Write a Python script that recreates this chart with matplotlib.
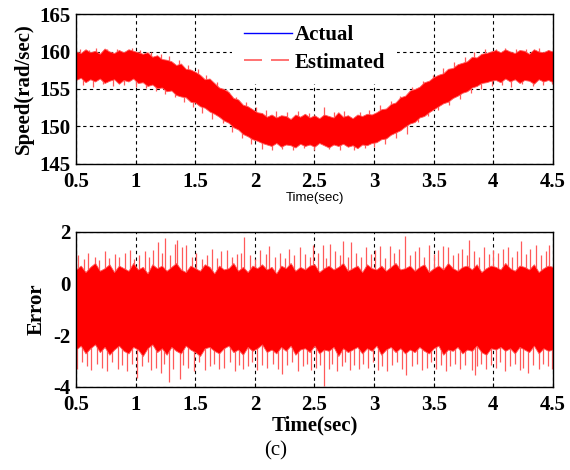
import numpy as np
import matplotlib
matplotlib.use("Agg")
import matplotlib.pyplot as plt
from matplotlib.lines import Line2D

plt.rcParams["font.family"] = ["Liberation Serif", "DejaVu Serif"]
plt.rcParams["axes.unicode_minus"] = False

# --- donnees ---
# temps (s) des enveloppes, pas de 0.04 s
t_env = np.linspace(0.5, 4.5, 101)
# temps (s) de la vitesse reelle, pas de 0.1 s
t_act = np.linspace(0.5, 4.5, 41)

speed_actual = [158.0, 158.1, 158.0, 158.1, 158.0, 157.9, 157.6, 157.2, 156.6, 155.9,
                155.1, 154.2, 153.2, 152.1, 151.0, 150.1, 149.6, 149.4, 149.4, 149.5,
                149.5, 149.4, 149.4, 149.5, 149.5, 149.8, 150.5, 151.5, 152.6, 153.6,
                154.5, 155.4, 156.3, 157.1, 157.7, 158.0, 158.1, 158.0, 158.1, 158.0,
                158.1]

# enveloppe haute / basse de la vitesse estimee
speed_est_hi = [160.0, 159.8, 160.3, 159.9, 160.1, 159.7, 160.4, 160.0, 159.8, 160.2,
                159.9, 160.3, 160.1, 159.9, 159.7, 159.9, 159.3, 159.5, 159.0, 158.9,
                158.7, 158.2, 158.4, 157.7, 157.6, 157.3, 156.9, 156.3, 156.4, 155.8,
                155.2, 155.0, 154.6, 153.8, 153.6, 152.9, 152.7, 152.3, 151.9, 151.8,
                151.3, 151.6, 151.2, 151.5, 151.4, 151.0, 151.6, 151.3, 151.7, 151.2,
                151.5, 151.1, 151.6, 151.4, 151.2, 151.9, 151.3, 151.5, 151.1, 151.6,
                151.4, 151.7, 151.6, 151.9, 152.3, 152.4, 153.0, 153.2, 153.9, 154.1,
                154.8, 155.0, 155.3, 155.9, 156.1, 156.6, 156.9, 157.1, 157.7, 157.8,
                158.3, 158.5, 158.7, 159.3, 159.2, 159.7, 159.8, 160.0, 160.2, 159.9,
                160.3, 160.0, 159.8, 160.2, 160.1, 159.7, 160.3, 160.0, 159.9, 160.2,
                160.0]
speed_est_lo = [156.2, 156.5, 155.9, 156.3, 156.0, 156.4, 155.8, 156.1, 156.3, 155.7,
                156.2, 156.0, 156.4, 155.8, 155.9, 155.4, 155.6, 155.1, 155.2, 154.7,
                154.8, 154.2, 154.0, 153.9, 153.3, 153.2, 152.7, 152.5, 152.0, 151.7,
                151.3, 150.8, 150.5, 149.9, 149.6, 149.0, 148.7, 148.3, 148.1, 147.8,
                147.6, 147.4, 147.8, 147.3, 147.6, 147.5, 147.2, 147.7, 147.4, 147.6,
                147.3, 147.8, 147.5, 147.2, 147.6, 147.4, 147.7, 147.3, 147.5, 147.1,
                147.6, 147.5, 147.8, 147.9, 148.3, 148.4, 148.9, 149.2, 149.5, 150.0,
                150.4, 150.6, 151.2, 151.4, 151.9, 152.3, 152.7, 153.1, 153.3, 153.8,
                154.1, 154.5, 154.7, 155.2, 155.4, 155.8, 155.9, 156.1, 156.2, 155.9,
                156.4, 156.0, 156.3, 155.8, 156.2, 156.1, 155.7, 156.3, 156.0, 156.2,
                155.9]

# pics isoles de la vitesse estimee
speed_up_t = [0.53, 0.61, 0.67, 0.76, 0.84, 0.97, 1.04, 1.13, 1.21, 1.28,
              1.36, 1.44, 1.52, 1.59, 1.68, 1.77, 1.84, 1.93, 2.01, 2.09,
              2.18, 2.27, 2.36, 2.45, 2.58, 2.66, 2.75, 2.88, 2.96, 3.05,
              3.14, 3.22, 3.32, 3.41, 3.49, 3.58, 3.67, 3.76, 3.84, 3.93,
              4.02, 4.10, 4.19, 4.27, 4.38, 4.46]
speed_up_v = [160.4, 160.2, 160.5, 160.3, 160.4, 160.5, 160.2, 159.9, 159.7, 159.4,
              158.9, 158.2, 157.6, 156.8, 155.9, 154.8, 153.9, 153.3, 152.6, 152.2,
              152.0, 151.9, 152.1, 151.8, 152.6, 151.9, 152.0, 151.9, 152.2, 152.8,
              153.4, 154.1, 155.3, 156.0, 156.9, 157.8, 158.6, 159.3, 159.9, 160.3,
              160.4, 160.5, 160.3, 160.4, 160.5, 160.2]
speed_dn_t = [0.56, 0.64, 0.73, 0.81, 0.90, 1.00, 1.09, 1.17, 1.25, 1.33,
              1.41, 1.48, 1.56, 1.64, 1.73, 1.81, 1.89, 1.97, 2.06, 2.14,
              2.23, 2.32, 2.41, 2.50, 2.62, 2.71, 2.83, 2.92, 3.00, 3.09,
              3.18, 3.28, 3.37, 3.45, 3.54, 3.63, 3.72, 3.81, 3.90, 3.99,
              4.07, 4.15, 4.24, 4.33, 4.42, 4.49]
speed_dn_v = [155.5, 155.3, 155.6, 155.4, 155.5, 155.3, 155.1, 154.7, 154.3, 153.9,
              153.2, 152.6, 151.8, 151.0, 150.4, 149.3, 148.4, 147.7, 147.0, 146.9,
              147.0, 146.8, 147.1, 146.9, 147.0, 146.8, 146.9, 147.1, 147.2, 147.6,
              148.5, 149.0, 150.6, 151.4, 152.2, 152.9, 153.6, 154.4, 155.0, 155.4,
              155.5, 155.3, 155.6, 155.4, 155.5, 155.6]

# enveloppe de l'erreur
err_hi = [0.55, 0.70, 0.45, 0.65, 0.80, 0.50, 0.60, 0.75, 0.45, 0.70,
          0.60, 0.50, 0.80, 0.55, 0.65, 0.40, 0.75, 0.60, 0.70, 0.50,
          0.65, 0.80, 0.55, 0.45, 0.70, 0.60, 0.50, 0.75, 0.65, 0.40,
          0.70, 0.55, 0.60, 0.80, 0.50, 0.65, 0.45, 0.70, 0.60, 0.75,
          0.55, 0.65, 0.40, 0.70, 0.60, 0.80, 0.50, 0.65, 0.55, 0.70,
          0.75, 0.45, 0.60, 0.70, 0.55, 0.65, 0.80, 0.50, 0.60, 0.70,
          0.45, 0.75, 0.60, 0.55, 0.70, 0.50, 0.65, 0.80, 0.55, 0.60,
          0.70, 0.50, 0.65, 0.75, 0.45, 0.60, 0.70, 0.55, 0.80, 0.60,
          0.50, 0.65, 0.70, 0.55, 0.75, 0.45, 0.60, 0.70, 0.65, 0.55,
          0.80, 0.60, 0.50, 0.70, 0.65, 0.55, 0.75, 0.45, 0.60, 0.70,
          0.65]
err_lo = [-2.55, -2.40, -2.70, -2.50, -2.35, -2.65, -2.45, -2.75, -2.55, -2.40,
          -2.60, -2.70, -2.45, -2.55, -2.80, -2.50, -2.35, -2.65, -2.50, -2.75,
          -2.45, -2.60, -2.70, -2.40, -2.55, -2.65, -2.80, -2.50, -2.45, -2.60,
          -2.70, -2.50, -2.40, -2.65, -2.55, -2.75, -2.45, -2.60, -2.50, -2.35,
          -2.65, -2.55, -2.70, -2.45, -2.60, -2.40, -2.75, -2.55, -2.50, -2.65,
          -2.40, -2.70, -2.55, -2.60, -2.45, -2.80, -2.50, -2.65, -2.55, -2.45,
          -2.70, -2.50, -2.60, -2.40, -2.75, -2.55, -2.45, -2.65, -2.50, -2.70,
          -2.55, -2.65, -2.45, -2.60, -2.70, -2.50, -2.40, -2.75, -2.55, -2.60,
          -2.45, -2.70, -2.55, -2.60, -2.40, -2.65, -2.75, -2.50, -2.55, -2.45,
          -2.60, -2.50, -2.70, -2.45, -2.55, -2.65, -2.40, -2.70, -2.50, -2.60,
          -2.55]

# pics isoles de l'erreur
err_up_t = [0.52, 0.57, 0.60, 0.66, 0.69, 0.74, 0.78, 0.83, 0.86, 0.91,
            0.95, 0.99, 1.03, 1.08, 1.11, 1.15, 1.19, 1.22, 1.25, 1.29,
            1.33, 1.35, 1.39, 1.42, 1.47, 1.51, 1.56, 1.60, 1.64, 1.68,
            1.72, 1.77, 1.81, 1.85, 1.88, 1.91, 1.96, 2.00, 2.04, 2.09,
            2.12, 2.17, 2.21, 2.25, 2.29, 2.33, 2.38, 2.42, 2.46, 2.49,
            2.53, 2.57, 2.60, 2.63, 2.67, 2.71, 2.74, 2.78, 2.81, 2.85,
            2.89, 2.93, 2.97, 3.01, 3.05, 3.09, 3.13, 3.17, 3.21, 3.26,
            3.30, 3.34, 3.38, 3.42, 3.46, 3.50, 3.54, 3.58, 3.62, 3.66,
            3.70, 3.74, 3.78, 3.80, 3.84, 3.88, 3.92, 3.96, 4.00, 4.04,
            4.08, 4.12, 4.16, 4.20, 4.23, 4.27, 4.31, 4.36, 4.40, 4.44,
            4.47]
err_up_v = [1.10, 0.95, 1.20, 1.05, 0.90, 1.25, 1.00, 1.15, 1.05, 1.20,
            1.30, 0.95, 1.10, 1.25, 1.05, 1.30, 1.60, 1.20, 1.75, 1.10,
            1.55, 1.70, 1.40, 1.50, 1.05, 1.20, 0.95, 1.10, 1.35, 1.00,
            1.25, 1.30, 1.05, 1.15, 1.20, 1.80, 1.10, 0.95, 1.30, 1.15,
            1.45, 1.05, 1.20, 1.00, 1.35, 1.10, 1.40, 1.15, 1.05, 1.50,
            1.20, 1.50, 1.00, 1.55, 1.25, 1.10, 1.65, 1.05, 1.60, 1.20,
            1.05, 1.40, 1.15, 1.30, 1.45, 1.00, 1.45, 1.20, 1.35, 1.85,
            1.10, 1.25, 1.40, 1.05, 1.50, 1.15, 1.30, 1.45, 1.40, 1.10,
            1.20, 1.35, 1.10, 1.70, 1.25, 1.05, 1.40, 1.15, 1.30, 1.20,
            1.35, 1.40, 1.05, 1.25, 1.65, 1.15, 1.35, 1.50, 1.10, 1.25,
            1.50]
err_dn_t = [0.51, 0.55, 0.59, 0.63, 0.68, 0.72, 0.76, 0.80, 0.85, 0.89,
            0.93, 0.97, 1.01, 1.05, 1.10, 1.13, 1.17, 1.21, 1.24, 1.28,
            1.31, 1.37, 1.40, 1.44, 1.49, 1.53, 1.58, 1.62, 1.66, 1.70,
            1.74, 1.79, 1.83, 1.87, 1.90, 1.94, 1.98, 2.02, 2.06, 2.10,
            2.15, 2.19, 2.23, 2.27, 2.31, 2.36, 2.40, 2.44, 2.47, 2.51,
            2.55, 2.58, 2.62, 2.65, 2.69, 2.73, 2.76, 2.80, 2.83, 2.87,
            2.91, 2.95, 2.99, 3.03, 3.07, 3.11, 3.15, 3.19, 3.23, 3.27,
            3.32, 3.36, 3.40, 3.44, 3.48, 3.52, 3.56, 3.60, 3.64, 3.68,
            3.72, 3.76, 3.82, 3.85, 3.86, 3.90, 3.94, 3.98, 4.02, 4.06,
            4.10, 4.14, 4.18, 4.22, 4.25, 4.29, 4.33, 4.38, 4.42, 4.46,
            4.49]
err_dn_v = [-3.30, -3.05, -3.20, -3.35, -3.10, -3.25, -3.40, -3.05, -3.30, -3.15,
            -3.40, -3.10, -3.65, -3.20, -3.05, -3.35, -3.25, -3.45, -3.10, -3.80,
            -3.30, -3.70, -3.15, -3.25, -3.40, -3.05, -3.35, -3.20, -3.10, -3.30,
            -3.25, -3.05, -3.40, -3.15, -3.30, -3.20, -3.05, -3.35, -3.15, -3.25,
            -3.10, -3.30, -3.50, -3.15, -3.05, -3.40, -3.20, -3.10, -3.35, -3.25,
            -3.15, -3.95, -3.30, -3.10, -3.40, -3.20, -3.05, -3.35, -3.15, -3.30,
            -3.10, -3.25, -3.05, -3.35, -3.20, -3.40, -3.15, -3.05, -3.30, -3.55,
            -3.20, -3.10, -3.35, -3.25, -3.05, -3.30, -3.15, -3.40, -3.20, -3.10,
            -3.30, -3.15, -3.35, -3.55, -3.20, -3.10, -3.30, -3.15, -3.25, -3.05,
            -3.40, -3.20, -3.10, -3.35, -3.25, -3.45, -3.15, -3.30, -3.10, -3.20,
            -3.30]

x_ticks = [0.5, 1, 1.5, 2, 2.5, 3, 3.5, 4, 4.5]
x_labels = ["0.5", "1", "1.5", "2", "2.5", "3", "3.5", "4", "4.5"]

RED = "#ff0000"
RED_LIGHT = "#ff5a5a"
GRID = dict(color="black", linestyle=(0, (3, 3)), linewidth=0.8)


def habiller(ax, yticks):
    ax.set_xlim(0.5, 4.5)
    ax.set_xticks(x_ticks)
    ax.set_xticklabels(x_labels)
    ax.set_yticks(yticks)
    ax.set_ylim(yticks[0], yticks[-1])
    ax.grid(True, **GRID)
    ax.set_axisbelow(True)
    ax.tick_params(direction="in", length=3, labelsize=15)
    ax.tick_params(axis="x", pad=6)
    ax.tick_params(axis="y", pad=4)
    for lab in ax.get_xticklabels() + ax.get_yticklabels():
        lab.set_fontweight("bold")
    for sp in ax.spines.values():
        sp.set_linewidth(1.0)
        sp.set_zorder(12)


fig = plt.figure(figsize=(5.7, 4.7), dpi=100)
ax1 = fig.add_axes([0.1333, 0.6511, 0.8368, 0.3191])
ax2 = fig.add_axes([0.1333, 0.1766, 0.8368, 0.3298])

# --- vitesse ---
ax1.plot(t_act, speed_actual, color="blue", lw=1.0, zorder=2)
ax1.vlines(speed_up_t, np.array(speed_up_v) - 2.2, speed_up_v, color=RED_LIGHT, lw=0.9, zorder=3)
ax1.vlines(speed_dn_t, speed_dn_v, np.array(speed_dn_v) + 2.2, color=RED_LIGHT, lw=0.9, zorder=3)
ax1.fill_between(t_env, speed_est_lo, speed_est_hi, color=RED, lw=0.6, edgecolor=RED_LIGHT, zorder=4)
habiller(ax1, [145, 150, 155, 160, 165])
ax1.set_ylabel("Speed(rad/sec)", fontsize=15, fontweight="bold", labelpad=4)
ax1.set_xlabel("Time(sec)", fontsize=9.5, family=["Liberation Sans", "DejaVu Sans"], labelpad=0)

handles = [Line2D([], [], color="blue", lw=1.0),
           Line2D([], [], color=RED_LIGHT, lw=1.2, linestyle=(0, (10.8, 5.4)))]
leg = ax1.legend(handles, ["Actual", "Estimated"], loc="upper center",
                 bbox_to_anchor=(0.5, 1.0), borderaxespad=0.0, frameon=True,
                 fancybox=False, edgecolor="none", facecolor="white", framealpha=1.0,
                 prop={"weight": "bold", "size": 15}, handlelength=2.3,
                 labelspacing=0.35, borderpad=0.55, handletextpad=0.15)
leg.set_zorder(10)

# --- erreur ---
ax2.vlines(err_up_t, -1.0, err_up_v, color=RED_LIGHT, lw=0.9, zorder=3)
ax2.vlines(err_dn_t, err_dn_v, -1.0, color=RED_LIGHT, lw=0.9, zorder=3)
ax2.fill_between(t_env, err_lo, err_hi, color=RED, lw=0.6, edgecolor=RED_LIGHT, zorder=4)
habiller(ax2, [-4, -2, 0, 2])
ax2.set_ylabel("Error", fontsize=15, fontweight="bold", labelpad=5)
ax2.set_xlabel("Time(sec)", fontsize=15, fontweight="bold", labelpad=0)

fig.text(0.483, 0.041, "(c)", ha="center", va="center", fontsize=15)

fig.savefig("out.png", dpi=100)
